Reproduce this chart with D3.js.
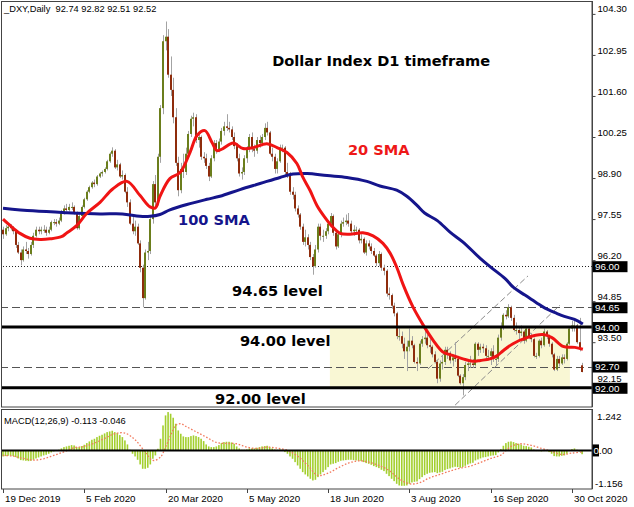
<!DOCTYPE html>
<html><head><meta charset="utf-8">
<script src="https://cdn.jsdelivr.net/npm/d3@7"></script>
<style>body{margin:0;background:#fff}svg{display:block}</style>
</head><body>
<svg id="c" width="634" height="507"></svg>
<script>
// ---------- DATA ----------
const openP = [97.20,97.05,97.25,97.30,97.25,97.15,96.70,96.45,96.20,96.55,
96.50,96.40,96.70,97.00,97.20,97.15,97.20,97.20,97.10,97.20,
97.45,97.45,97.40,97.50,97.75,97.90,97.85,97.95,97.95,97.75,
97.25,97.65,97.95,98.20,98.45,98.60,98.75,98.70,98.95,99.05,
99.10,99.20,99.45,99.70,99.80,99.25,99.35,98.95,99.00,98.45,
98.10,97.40,97.15,97.30,96.75,95.95,94.95,96.45,96.50,97.55,
98.70,98.10,99.60,101.20,103.40,103.55,102.30,101.80,100.90,99.40,
98.50,99.20,99.10,99.70,100.35,100.85,100.90,100.15,100.25,99.60,
99.55,99.30,98.95,99.55,100.05,99.85,100.10,100.45,100.60,100.55,
100.50,100.25,99.95,99.55,99.05,99.10,99.55,99.85,100.25,99.85,
99.80,100.15,100.05,100.25,100.55,100.40,99.70,99.60,99.20,99.45,
99.90,99.90,99.10,99.00,98.45,98.35,97.90,97.70,97.30,96.80,
96.95,96.70,96.30,96.00,96.55,97.30,97.00,97.00,97.15,97.40,
97.65,97.10,96.65,97.05,97.40,97.45,97.50,97.40,97.15,97.20,
97.20,96.85,96.90,96.45,96.75,96.65,96.50,96.35,96.10,96.40,
95.95,95.85,95.10,95.05,94.70,94.45,93.70,93.70,93.45,93.20,
93.35,93.55,93.40,92.85,92.80,93.45,93.60,93.65,93.40,93.35,
93.10,92.85,92.30,92.80,92.85,93.25,93.15,92.90,93.00,92.95,
92.40,92.15,92.35,92.75,92.80,92.80,92.75,93.45,93.25,93.35,
93.30,93.05,93.05,93.20,92.95,92.95,93.65,94.00,94.40,94.35,
94.65,94.30,93.90,93.90,93.80,93.85,93.55,93.95,93.65,93.60,
93.05,93.05,93.55,93.40,93.85,93.70,93.45,93.10,92.60,92.95,
92.80,93.00,92.95,93.45,93.95,94.05,94.05,93.50,92.74];
const highP = [97.30,97.35,97.40,97.38,97.32,97.20,96.80,96.55,96.65,96.80,
96.60,96.80,97.10,97.30,97.30,97.30,97.35,97.30,97.30,97.50,
97.55,97.55,97.60,97.85,98.00,98.05,98.05,98.10,98.00,97.80,
97.70,98.00,98.25,98.50,98.65,98.80,98.85,99.00,99.10,99.15,
99.25,99.50,99.75,99.91,99.85,99.50,99.40,99.15,99.05,98.60,
98.20,97.70,97.50,97.40,96.85,96.05,96.55,96.80,97.65,98.80,
99.00,99.70,101.30,103.60,104.05,103.80,102.90,102.20,101.20,99.60,
99.40,99.70,99.90,100.45,100.95,101.05,101.00,100.40,100.30,99.75,
99.70,99.40,99.65,100.15,100.15,100.20,100.55,100.75,101.00,100.75,
100.60,100.40,100.05,99.70,99.25,99.65,99.95,100.35,100.40,100.00,
100.25,100.30,100.35,100.70,100.75,100.45,99.90,99.70,99.55,100.00,
100.00,99.95,99.40,99.10,98.60,98.45,98.00,97.75,97.40,97.20,
97.05,96.80,96.40,96.70,97.40,97.40,97.20,97.25,97.50,97.75,
97.70,97.20,97.15,97.50,97.60,97.70,97.75,97.50,97.35,97.30,
97.25,97.05,96.95,96.85,96.85,96.75,96.60,96.40,96.50,96.45,
96.05,95.90,95.30,95.10,94.80,94.50,93.95,93.85,93.65,93.55,
93.95,93.70,93.45,93.00,93.55,93.70,93.90,93.75,93.60,93.40,
93.20,92.90,92.90,93.05,93.35,93.35,93.20,93.10,93.50,93.05,
92.45,92.45,92.85,92.90,93.05,92.95,93.50,93.50,93.45,93.45,
93.40,93.25,93.30,93.40,93.10,93.75,94.15,94.45,94.55,94.75,
94.70,94.40,94.15,94.00,94.05,93.90,94.00,94.00,93.80,93.65,
93.15,93.60,93.65,93.95,93.90,93.75,93.50,93.15,93.05,93.05,
93.10,93.10,93.50,94.00,94.20,94.20,94.10,94.30,92.82];
const lowP = [96.90,97.00,97.15,97.18,97.05,96.60,96.40,96.03,96.15,96.40,
96.25,96.35,96.60,96.95,97.05,97.05,97.10,97.00,97.05,97.15,
97.35,97.30,97.35,97.45,97.70,97.80,97.80,97.85,97.70,97.20,
97.20,97.60,97.90,98.15,98.40,98.55,98.60,98.65,98.90,98.95,
99.05,99.15,99.40,99.60,99.20,99.15,98.90,98.85,98.40,97.95,
97.35,97.05,97.00,96.70,95.80,94.65,94.90,96.20,96.40,97.40,
97.90,98.00,99.40,101.00,103.10,102.20,101.60,100.70,99.30,98.30,
98.40,98.90,99.00,99.60,100.25,100.60,100.05,99.90,99.50,99.40,
99.20,98.80,98.90,99.45,99.70,99.75,100.00,100.30,100.45,100.40,
100.15,99.85,99.45,98.95,98.85,99.00,99.40,99.75,99.75,99.60,
99.70,99.90,99.95,100.15,100.30,99.65,99.45,99.05,99.05,99.40,
99.75,99.00,98.90,98.35,98.20,97.80,97.60,97.20,96.70,96.65,
96.55,96.20,95.72,95.95,96.45,96.85,96.80,96.90,97.05,97.30,
97.00,96.55,96.60,96.95,97.30,97.35,97.30,97.05,97.00,97.05,
96.75,96.75,96.40,96.35,96.55,96.40,96.30,96.00,96.00,95.85,
95.70,95.00,94.90,94.60,94.35,93.60,93.55,93.30,92.95,92.55,
93.20,93.30,92.80,92.55,92.75,93.35,93.45,93.30,93.15,93.00,
92.80,92.15,92.20,92.60,92.75,92.95,92.80,92.70,92.85,92.35,
92.10,91.75,92.25,92.55,92.65,92.65,92.70,93.05,93.15,93.15,
92.95,92.90,92.75,92.85,92.75,92.85,93.55,93.90,94.25,94.30,
94.20,93.85,93.75,93.60,93.70,93.45,93.50,93.60,93.50,93.00,
92.95,93.00,93.30,93.35,93.60,93.35,93.00,92.55,92.55,92.70,
92.75,92.80,92.90,93.40,93.85,93.85,93.45,93.20,92.51];
const closeP = [97.05,97.25,97.30,97.25,97.15,96.70,96.45,96.20,96.55,96.50,
96.40,96.70,97.00,97.20,97.15,97.20,97.20,97.10,97.20,97.45,
97.45,97.40,97.50,97.75,97.90,97.85,97.95,97.95,97.75,97.25,
97.65,97.95,98.20,98.45,98.60,98.75,98.70,98.95,99.05,99.10,
99.20,99.45,99.70,99.80,99.25,99.35,98.95,99.00,98.45,98.10,
97.40,97.15,97.30,96.75,95.95,94.95,96.45,96.50,97.55,98.70,
98.10,99.60,101.20,103.40,103.55,102.30,101.80,100.90,99.40,98.50,
99.20,99.10,99.70,100.35,100.85,100.90,100.15,100.25,99.60,99.55,
99.30,98.95,99.55,100.05,99.85,100.10,100.45,100.60,100.55,100.50,
100.25,99.95,99.55,99.05,99.10,99.55,99.85,100.25,99.85,99.80,
100.15,100.05,100.25,100.55,100.40,99.70,99.60,99.20,99.45,99.90,
99.90,99.10,99.00,98.45,98.35,97.90,97.70,97.30,96.80,96.95,
96.70,96.30,96.00,96.55,97.30,97.00,97.00,97.15,97.40,97.65,
97.10,96.65,97.05,97.40,97.45,97.50,97.40,97.15,97.20,97.20,
96.85,96.90,96.45,96.75,96.65,96.50,96.35,96.10,96.40,95.95,
95.85,95.10,95.05,94.70,94.45,93.70,93.70,93.45,93.20,93.35,
93.55,93.40,92.85,92.80,93.45,93.60,93.65,93.40,93.35,93.10,
92.85,92.30,92.80,92.85,93.25,93.15,92.90,93.00,92.95,92.40,
92.15,92.35,92.75,92.80,92.80,92.75,93.45,93.25,93.35,93.30,
93.05,93.05,93.20,92.95,92.95,93.65,94.00,94.40,94.35,94.65,
94.30,93.90,93.90,93.80,93.85,93.55,93.95,93.65,93.60,93.05,
93.05,93.55,93.40,93.85,93.70,93.45,93.10,92.60,92.95,92.80,
93.00,92.95,93.45,93.95,94.05,94.05,93.50,93.30,92.52];

// moving averages: [bar index, value]
const sma20 = [[0,97.55],[2.8,97.34],[6.7,97.08],[10.6,96.92],[14.6,96.88],[18.5,96.9],[23,96.97],[25.2,97.1],[29.1,97.34],[33,97.74],[38.2,98.1],[43.3,98.55],[48.8,98.79],[53.9,98.33],[57.9,97.95],[60,97.92],[61.8,98.3],[65.7,98.88],[69.7,99.08],[73.6,99.74],[76.4,100.3],[79.5,100.46],[82.3,100.07],[84.3,99.8],[86.6,99.87],[90.6,100.05],[94.5,99.87],[98.4,99.9],[103.9,100.03],[107.9,99.9],[111.8,99.74],[115.7,99.38],[118.1,98.92],[120.9,98.49],[123.6,98.0],[126.8,97.6],[129.9,97.28],[132.7,97.08],[136.6,97.05],[141.7,97.1],[145.7,97.0],[149.6,96.75],[152.4,96.43],[155.1,95.95],[157.5,95.4],[161.4,94.66],[165.4,94.07],[169.3,93.57],[173.2,93.18],[177.2,93.06],[181.1,92.95],[185,92.87],[188,92.9],[191.7,92.95],[194.5,93.05],[196.9,93.22],[200.8,93.45],[206.3,93.65],[212.6,93.75],[216.1,93.65],[220.5,93.36],[225.2,93.33],[228.3,93.27]];
const sma100 = [[0,97.91],[11.8,97.82],[25.2,97.76],[38.2,97.72],[47,97.72],[53.9,97.64],[57.9,97.64],[61.8,97.7],[65.7,97.85],[72.4,98.03],[80.3,98.2],[85.4,98.3],[93.3,98.52],[101.2,98.72],[109.1,98.92],[114.2,99.03],[119.7,99.05],[127.6,98.98],[135.4,98.92],[143.3,98.79],[148.4,98.64],[155,98.5],[159,98.3],[163,98.0],[166,97.75],[171,97.5],[176,97.12],[181,96.8],[188,96.25],[192,95.97],[197.6,95.6],[201,95.3],[205.5,95.05],[210,94.8],[213.4,94.62],[218,94.45],[221,94.35],[225,94.25],[228.3,94.1]];

// MACD(12,26,9) main values (histogram), one per bar
const macdMain = [-0.18,-0.17,-0.16,-0.16,-0.17,-0.20,-0.24,-0.29,-0.30,-0.31,
-0.32,-0.31,-0.28,-0.24,-0.21,-0.18,-0.15,-0.13,-0.10,-0.06,
-0.03,-0.01,0.02,0.06,0.10,0.12,0.14,0.16,0.15,0.10,
0.10,0.13,0.17,0.22,0.27,0.32,0.35,0.40,0.44,0.47,
0.51,0.55,0.57,0.59,0.55,0.52,0.46,0.40,0.30,0.18,
0.02,-0.10,-0.18,-0.28,-0.42,-0.55,-0.55,-0.52,-0.42,-0.25,
-0.15,0.05,0.35,0.75,1.05,1.15,1.10,0.98,0.80,0.60,
0.50,0.42,0.40,0.40,0.43,0.45,0.43,0.40,0.35,0.28,
0.18,0.12,0.10,0.10,0.12,0.16,0.22,0.25,0.26,0.26,
0.24,0.20,0.12,0.06,0.02,0.02,0.03,0.06,0.06,0.06,
0.08,0.10,0.12,0.13,0.14,0.10,0.06,0.03,0.02,0.03,
0.02,-0.05,-0.10,-0.18,-0.25,-0.35,-0.45,-0.55,-0.65,-0.72,
-0.78,-0.85,-0.90,-0.88,-0.80,-0.72,-0.65,-0.58,-0.50,-0.42,
-0.40,-0.38,-0.34,-0.31,-0.30,-0.29,-0.28,-0.28,-0.29,-0.30,
-0.31,-0.32,-0.35,-0.38,-0.40,-0.43,-0.47,-0.50,-0.53,-0.58,
-0.62,-0.70,-0.77,-0.85,-0.92,-1.00,-1.05,-1.06,-1.06,-1.05,
-1.00,-0.96,-0.94,-0.93,-0.86,-0.80,-0.74,-0.70,-0.67,-0.66,
-0.65,-0.68,-0.66,-0.64,-0.59,-0.56,-0.54,-0.51,-0.49,-0.50,
-0.52,-0.50,-0.46,-0.42,-0.39,-0.37,-0.30,-0.27,-0.24,-0.21,
-0.20,-0.18,-0.16,-0.15,-0.14,-0.06,0.04,0.14,0.22,0.26,
0.27,0.25,0.22,0.20,0.18,0.14,0.13,0.11,0.09,0.03,
-0.02,-0.02,-0.03,-0.02,-0.02,-0.05,-0.10,-0.17,-0.18,-0.18,
-0.16,-0.15,-0.10,-0.02,0.04,0.06,0.02,-0.03,-0.113];
// signal line: [bar index, value]
const macdSignal = [[0,-0.15],[4,-0.17],[8,-0.24],[12,-0.29],[16,-0.25],[20,-0.15],[24,-0.04],[28,0.08],[32,0.12],[36,0.22],[40,0.36],[44,0.50],[48,0.52],[52,0.32],[56,-0.05],[59,-0.30],[62,-0.20],[64,0.10],[66,0.45],[68,0.75],[70,0.80],[72,0.72],[76,0.56],[80,0.40],[84,0.24],[88,0.21],[92,0.20],[96,0.10],[100,0.06],[104,0.10],[108,0.07],[112,0.0],[116,-0.17],[120,-0.45],[124,-0.75],[128,-0.68],[132,-0.52],[136,-0.38],[140,-0.31],[144,-0.35],[148,-0.45],[152,-0.60],[156,-0.85],[160,-1.0],[164,-0.97],[168,-0.82],[172,-0.72],[176,-0.62],[180,-0.53],[184,-0.47],[188,-0.36],[192,-0.24],[196,-0.14],[200,0.12],[204,0.20],[208,0.15],[212,0.06],[216,-0.03],[220,-0.12],[224,-0.08],[228,-0.046]];

const priceTicks = [104.30,102.95,101.60,100.25,98.90,97.55,96.20,94.85,93.50,92.15];
const dateTickIdx = [0,32,64,96,128,160,192,224];
const dateLabels = ["19 Dec 2019","5 Feb 2020","20 Mar 2020","5 May 2020","18 Jun 2020","3 Aug 2020","16 Sep 2020","30 Oct 2020"];
const levelsThick = [94.00, 92.00];
const levelsDashed = [94.65, 92.70];
const levelsDotted = [96.00];
const zoneBars = [128.7, 223.2];   // yellow zone, bar-index span
const zonePrices = [92.00, 94.00];
const channel = [ [[167.3,92.62],[206.7,95.68]], [[178,91.43],[219.3,94.72]] ];
const macdMax = 1.242, macdMin = -1.156;
const header = "_DXY,Daily  92.74 92.82 92.51 92.52";
const macdHeader = "MACD(12,26,9) -0.113 -0.046";

// ---------- DRAW ----------
const svg = d3.select("#c");
const W = 592, PT = 1, PB = 407, MT = 409, MB = 489;
const x = d3.scaleLinear().domain([-1.18, 231.9]).range([0, W]);
const y = d3.scaleLinear().domain([91.368, 104.724]).range([PB, PT]);
const ym = d3.scaleLinear().domain([macdMin, macdMax]).range([MB, MT]);
const axisFont = "Liberation Sans, Arial, sans-serif";
const boldFont = "DejaVu Sans, Verdana, sans-serif";

svg.append("rect").attr("width",634).attr("height",507).attr("fill","#fff");

svg.append("clipPath").attr("id","cp").append("rect").attr("x",1).attr("y",PT).attr("width",W-1).attr("height",PB-PT);
svg.append("clipPath").attr("id","cm").append("rect").attr("x",1).attr("y",MT).attr("width",W-1).attr("height",MB-MT);
const gp = svg.append("g").attr("clip-path","url(#cp)");
const gm = svg.append("g").attr("clip-path","url(#cm)");

// yellow zone
gp.append("rect").attr("x", x(zoneBars[0])).attr("width", x(zoneBars[1]) - x(zoneBars[0]))
  .attr("y", y(zonePrices[1])).attr("height", y(zonePrices[0]) - y(zonePrices[1]))
  .attr("fill", "#f9f7d4");

// dotted / dashed levels
levelsDotted.forEach(v => gp.append("line").attr("x1",0).attr("x2",W).attr("y1",Math.round(y(v))+0.5).attr("y2",Math.round(y(v))+0.5)
  .attr("stroke","#222").attr("stroke-width",1).attr("stroke-dasharray","1,2"));
levelsDashed.forEach(v => gp.append("line").attr("x1",0).attr("x2",W).attr("y1",Math.round(y(v))+0.5).attr("y2",Math.round(y(v))+0.5)
  .attr("stroke","#555").attr("stroke-width",1).attr("stroke-dasharray","8,4"));

// channel lines
channel.forEach(seg => gp.append("line")
  .attr("x1", x(seg[0][0])).attr("y1", y(seg[0][1])).attr("x2", x(seg[1][0])).attr("y2", y(seg[1][1]))
  .attr("stroke","#8a8a8a").attr("stroke-width",1).attr("stroke-dasharray","6,3"));

// candles
const idx = d3.range(closeP.length);
const gc = gp.append("g");
idx.forEach(i => {
  const cx = Math.round(x(i));
  gc.append("rect").attr("x", cx).attr("width", 1)
    .attr("y", y(highP[i])).attr("height", Math.max(1, y(lowP[i]) - y(highP[i])))
    .attr("fill", "#a3a3a3");
  const top = y(Math.max(openP[i], closeP[i])), bot = y(Math.min(openP[i], closeP[i]));
  gc.append("rect").attr("x", cx - 1).attr("width", 2)
    .attr("y", top).attr("height", Math.max(1, bot - top))
    .attr("fill", closeP[i] >= openP[i] ? "#6b7e1c" : "#8e2c0c");
});

// SMAs
const lineGen = d3.line().x(d => x(d[0])).y(d => y(d[1])).curve(d3.curveCatmullRom.alpha(0.5));
gp.append("path").attr("d", lineGen(sma100)).attr("fill","none").attr("stroke","#15158c").attr("stroke-width",3).attr("stroke-linejoin","round");
gp.append("path").attr("d", lineGen(sma20)).attr("fill","none").attr("stroke","#f01414").attr("stroke-width",3).attr("stroke-linejoin","round");

// thick levels
levelsThick.forEach(v => gp.append("line").attr("x1",0).attr("x2",W).attr("y1",y(v)).attr("y2",y(v))
  .attr("stroke","#000").attr("stroke-width",3));

// annotations (placed in data space)
const ann = [
  {t:"Dollar Index D1 timeframe", i:106, p:102.6, c:"#000"},
  {t:"20 SMA", i:135.8, p:99.66, c:"#ee1818"},
  {t:"100 SMA", i:68.9, p:97.36, c:"#15158c"},
  {t:"94.65 level", i:90.2, p:95.02, c:"#000"},
  {t:"94.00 level", i:93.3, p:93.375, c:"#000"},
  {t:"92.00 level", i:83.5, p:91.47, c:"#000"}
];
ann.forEach(a => svg.append("text").attr("x", x(a.i)).attr("y", y(a.p)).text(a.t)
  .attr("font-family", boldFont).attr("font-weight","bold").attr("font-size",14.6).attr("fill",a.c));

// MACD
const z0 = ym(0);
idx.forEach(i => {
  const v = macdMain[i];
  gm.append("rect").attr("x", x(i) - 0.8).attr("width", 1.6)
    .attr("y", Math.min(ym(v), z0)).attr("height", Math.abs(ym(v) - z0))
    .attr("fill", "#a3cf2e");
});
const sigGen = d3.line().x(d => x(d[0])).y(d => ym(d[1])).curve(d3.curveCatmullRom.alpha(0.5));
gm.append("path").attr("d", sigGen(macdSignal)).attr("fill","none").attr("stroke","#f27a5e")
  .attr("stroke-width",1.3).attr("stroke-dasharray","1.6,1.8");
gm.append("line").attr("x1",0).attr("x2",W).attr("y1",z0).attr("y2",z0).attr("stroke","#000").attr("stroke-width",2);

// frames
svg.append("rect").attr("x",1.5).attr("y",1.5).attr("width",W-1.5).attr("height",PB-1.5).attr("fill","none").attr("stroke","#444");
svg.append("rect").attr("x",1.5).attr("y",MT+0.5).attr("width",W-1.5).attr("height",MB-MT-0.5).attr("fill","none").attr("stroke","#444");

// price axis
const pa = svg.append("g").attr("transform",`translate(${W+0.5},0)`)
  .call(d3.axisRight(y).tickValues(priceTicks).tickSize(3).tickFormat(d3.format(".2f")));
pa.select(".domain").attr("stroke","#444").attr("d",`M0,${PT}V${PB}`);
pa.selectAll(".tick line").attr("stroke","#444");
pa.selectAll(".tick text").attr("x",5).attr("y",-5).attr("dy","0.32em").attr("font-family",axisFont).attr("font-size",9.6).attr("fill","#000");

// level boxes
[...levelsDotted, ...levelsDashed, ...levelsThick].forEach(v => {
  const yy = y(v);
  svg.append("rect").attr("x",W+0.5).attr("y",yy-5).attr("width",35).attr("height",11).attr("fill","#000");
  svg.append("text").attr("x",W+3).attr("y",yy+3.8).text(d3.format(".2f")(v))
    .attr("font-family",axisFont).attr("font-size",9.8).attr("fill","#fff");
});

// MACD axis
svg.append("line").attr("x1",W+0.5).attr("x2",W+0.5).attr("y1",MT).attr("y2",MB).attr("stroke","#444");
svg.append("text").attr("x",W+5).attr("y",ym(macdMax)+11).text(macdMax.toFixed(3))
  .attr("font-family",axisFont).attr("font-size",9.8);
svg.append("text").attr("x",W+3).attr("y",ym(macdMin)-2).text(macdMin.toFixed(3))
  .attr("font-family",axisFont).attr("font-size",9.8);
svg.append("rect").attr("x",W+0.5).attr("y",z0-6).attr("width",6.5).attr("height",12).attr("fill","#000");
const zt = svg.append("text").attr("x",W+1.5).attr("y",z0+3.6).attr("font-family",axisFont).attr("font-size",9.8);
zt.append("tspan").attr("fill","#fff").text("0");
zt.append("tspan").attr("fill","#000").text(".00");

// time axis
dateTickIdx.forEach((di, k) => {
  const tx = Math.round(x(di)) + 0.5;
  svg.append("line").attr("x1",tx).attr("x2",tx).attr("y1",MB).attr("y2",MB+4).attr("stroke","#444");
  svg.append("text").attr("x",tx+1.5).attr("y",MB+13).text(dateLabels[k])
    .attr("font-family",axisFont).attr("font-size",9.8).attr("fill","#000");
});

// headers
svg.append("text").attr("x",4).attr("y",12).text(header).attr("font-family",axisFont).attr("font-size",9.3).attr("fill","#000").attr("xml:space","preserve").style("white-space","pre");
svg.append("text").attr("x",4).attr("y",MT+15).text(macdHeader).attr("font-family",axisFont).attr("font-size",9.3).attr("fill","#000");
</script>
</body></html>
